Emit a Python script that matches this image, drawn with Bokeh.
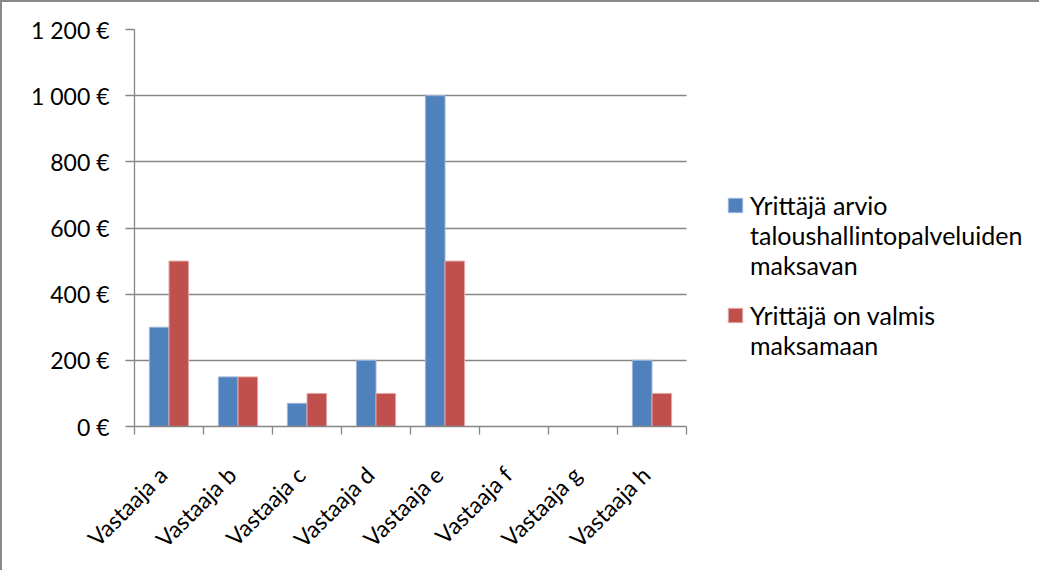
import numpy as np
from bokeh.plotting import figure
from bokeh.models import (Range1d, FixedTicker, ColumnDataSource, Legend, LegendItem)
from bokeh.core.properties import value
from bokeh.transform import dodge
from bokeh.embed import file_html
from bokeh.resources import INLINE

# ---- data ----
categories = ["Vastaaja a", "Vastaaja b", "Vastaaja c", "Vastaaja d",
              "Vastaaja e", "Vastaaja f", "Vastaaja g", "Vastaaja h"]
arvio = [300, 150, 70, 200, 1000, 0, 0, 200]      # Yrittäjä arvio ... maksavan
valmis = [500, 150, 100, 100, 500, 0, 0, 100]     # Yrittäjä on valmis maksamaan
y_ticks = [0, 200, 400, 600, 800, 1000, 1200]
y_tick_labels = ["0 €", "200 €", "400 €", "600 €", "800 €", "1 000 €", "1 200 €"]
series1_lines = ["Yrittäjä arvio", "taloushallintopalveluiden", "maksavan"]
series2_lines = ["Yrittäjä on valmis", "maksamaan"]

FONT = "Lato"
FS = "23px"
LFS = "25px"
GRID = "#868686"
BLUE = "#4F81BD"
RED = "#C0504D"

# layout (pixels)
W, H = 1039, 570
ML, MT, MR, MB = 132, 27, 5, 146
CAT_PX = 552 / len(categories)          # width of one category slot
frame_w = W - ML - MR
x_end = frame_w / CAT_PX                # frame extends under the legend
n = len(categories)

centers = np.arange(n) + 0.5
src = ColumnDataSource(dict(x=centers, arvio=arvio, valmis=valmis))

p = figure(width=W, height=H, output_backend="svg", toolbar_location=None,
           x_range=Range1d(0, x_end), y_range=Range1d(0, 1200),
           min_border_left=ML, min_border_top=MT, min_border_right=MR,
           min_border_bottom=MB)
p.styles = {"border-top": "2px solid #8a8a8a", "border-left": "2px solid #8a8a8a"}
p.outline_line_color = None
p.background_fill_color = "white"
p.border_fill_color = "white"

# grid lines (limited to the category area)
p.xgrid.grid_line_color = None
p.ygrid.ticker = FixedTicker(ticks=y_ticks)
p.ygrid.grid_line_color = GRID
p.ygrid.grid_line_width = 1.3
try:
    p.ygrid.cross_bounds = (0, n)
except Exception:
    p.ygrid.grid_line_color = None
    p.segment(x0=[0] * len(y_ticks), x1=[n] * len(y_ticks), y0=y_ticks, y1=y_ticks,
              line_color=GRID, line_width=1.3)

bw = 0.284
b1 = p.vbar(x=dodge("x", -bw / 2, range=p.x_range), top="arvio", width=bw, source=src,
            fill_color=BLUE, line_color="#9DB6DA", line_width=1)
b2 = p.vbar(x=dodge("x", bw / 2, range=p.x_range), top="valmis", width=bw, source=src,
            fill_color=RED, line_color="#E3A9A7", line_width=1)
dummy = p.rect(x=[], y=[], width=1, height=1, fill_alpha=0, line_alpha=0)

# y axis
ya = p.yaxis[0]
ya.ticker = FixedTicker(ticks=y_ticks)
ya.major_label_overrides = {t: l for t, l in zip(y_ticks, y_tick_labels)}
ya.axis_line_color = GRID
ya.axis_line_width = 1.3
ya.major_tick_line_color = GRID
ya.major_tick_line_width = 1.3
ya.major_tick_in = 0
ya.major_tick_out = 9
ya.minor_tick_line_color = None
ya.major_label_standoff = 16
ya.major_label_text_font = FONT
ya.major_label_text_font_size = FS
ya.major_label_text_color = "black"

# x axis
LABEL_SHIFT = 0.09
label_pos = [float(c - LABEL_SHIFT) for c in centers]
xa = p.xaxis[0]
xa.bounds = (0, n)
xa.ticker = FixedTicker(ticks=label_pos, minor_ticks=list(range(n + 1)))
xa.major_label_overrides = {pos: lab for pos, lab in zip(label_pos, categories)}
xa.major_label_orientation = np.pi / 4
xa.axis_line_color = GRID
xa.axis_line_width = 1.3
xa.major_tick_line_color = None
xa.major_tick_in = 0
xa.major_tick_out = 0
xa.minor_tick_line_color = GRID
xa.minor_tick_line_width = 1.3
xa.minor_tick_in = 0
xa.minor_tick_out = 8
xa.major_label_standoff = 36
xa.major_label_text_font = FONT
xa.major_label_text_font_size = FS
xa.major_label_text_color = "black"


def make_legend(lines, renderer, loc):
    items = [LegendItem(label=value(lines[0]), renderers=[renderer])]
    for ln in lines[1:]:
        items.append(LegendItem(label=value(ln), renderers=[dummy]))
    lg = Legend(items=items, location=loc, margin=0, padding=0, spacing=0,
                glyph_width=18, glyph_height=18, label_height=30, label_standoff=6,
                label_text_font=FONT, label_text_font_size=LFS, label_text_color="black",
                border_line_color=None, background_fill_alpha=0)
    p.add_layout(lg)


make_legend(series1_lines, b1, (592, 146))
make_legend(series2_lines, b2, (592, 66))

open("out.html", "w").write(file_html(p, INLINE))
